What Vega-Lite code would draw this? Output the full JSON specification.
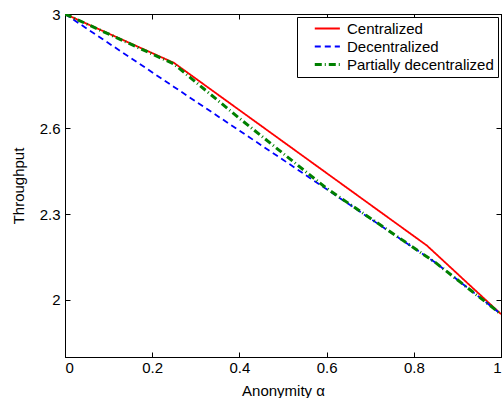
{
  "$schema": "https://vega.github.io/schema/vega-lite/v6.json",
  "width": 436,
  "height": 343,
  "autosize": {"type": "none"},
  "padding": {"left": 65, "top": 14, "right": 1, "bottom": 41},
  "config": {
    "view": {"stroke": "black", "strokeWidth": 1},
    "font": "Liberation Sans",
    "axis": {
      "grid": false,
      "domainColor": "black",
      "tickColor": "black",
      "labelColor": "black",
      "titleColor": "black",
      "labelFontSize": 15,
      "titleFontSize": 15,
      "titleFontWeight": "normal",
      "tickSize": -5,
      "labelPadding": 10
    }
  },
  "data": {
    "values": [
      {"alpha": 0, "throughput": 3, "scheme": "Centralized"},
      {"alpha": 0.25, "throughput": 2.829, "scheme": "Centralized"},
      {"alpha": 0.83, "throughput": 2.19, "scheme": "Centralized"},
      {"alpha": 1, "throughput": 1.95, "scheme": "Centralized"},
      {"alpha": 0, "throughput": 3, "scheme": "Decentralized"},
      {"alpha": 0.25, "throughput": 2.745, "scheme": "Decentralized"},
      {"alpha": 0.5, "throughput": 2.49, "scheme": "Decentralized"},
      {"alpha": 0.85, "throughput": 2.13, "scheme": "Decentralized"},
      {"alpha": 1, "throughput": 1.95, "scheme": "Decentralized"},
      {"alpha": 0, "throughput": 3, "scheme": "Partially decentralized"},
      {"alpha": 0.25, "throughput": 2.825, "scheme": "Partially decentralized"},
      {"alpha": 0.4, "throughput": 2.635, "scheme": "Partially decentralized"},
      {"alpha": 0.6, "throughput": 2.39, "scheme": "Partially decentralized"},
      {"alpha": 0.85, "throughput": 2.13, "scheme": "Partially decentralized"},
      {"alpha": 1, "throughput": 1.95, "scheme": "Partially decentralized"}
    ]
  },
  "layer": [
    {
      "mark": {"type": "line", "clip": true},
      "encoding": {
        "x": {
          "field": "alpha", "type": "quantitative",
          "scale": {"domain": [0, 1], "nice": false, "zero": false},
          "axis": {"orient": "bottom", "values": [0, 0.2, 0.4, 0.6, 0.8, 1], "format": "~g", "title": "Anonymity α", "titlePadding": 8, "labelPadding": 8}
        },
        "y": {
          "field": "throughput", "type": "quantitative",
          "scale": {"domain": [1.8, 3], "nice": false, "zero": false},
          "axis": {"orient": "left", "values": [2, 2.3, 2.6, 3], "format": "~g", "title": "Throughput", "titlePadding": 13}
        },
        "color": {
          "field": "scheme", "type": "nominal",
          "scale": {"domain": ["Centralized", "Decentralized", "Partially decentralized"], "range": ["#ff0000", "#0000ff", "#008000"]},
          "legend": {
            "title": null,
            "orient": "top-right",
            "offset": 3,
            "strokeColor": "black",
            "fillColor": "white",
            "padding": 4,
            "labelFontSize": 15,
            "labelColor": "black",
            "symbolType": "M1.5,0H7.5",
            "symbolSize": 70,
            "labelOffset": 31,
            "rowPadding": 2,
            "cornerRadius": 0
          }
        },
        "strokeDash": {
          "field": "scheme", "type": "nominal",
          "scale": {"domain": ["Centralized", "Decentralized", "Partially decentralized"], "range": [[1, 0], [6, 4], [7, 3, 1, 3]]}
        },
        "strokeWidth": {
          "field": "scheme", "type": "ordinal",
          "scale": {"type": "ordinal", "domain": ["Centralized", "Decentralized", "Partially decentralized"], "range": [1.8, 1.8, 3]},
          "legend": null
        }
      }
    },
    {
      "mark": {"type": "point", "opacity": 0},
      "encoding": {
        "x": {
          "field": "alpha", "type": "quantitative",
          "axis": {"orient": "top", "values": [0, 0.2, 0.4, 0.6, 0.8, 1], "labels": false, "title": null}
        },
        "y": {
          "field": "throughput", "type": "quantitative",
          "axis": {"orient": "right", "values": [2, 2.3, 2.6, 3], "labels": false, "title": null}
        }
      }
    }
  ]
}
